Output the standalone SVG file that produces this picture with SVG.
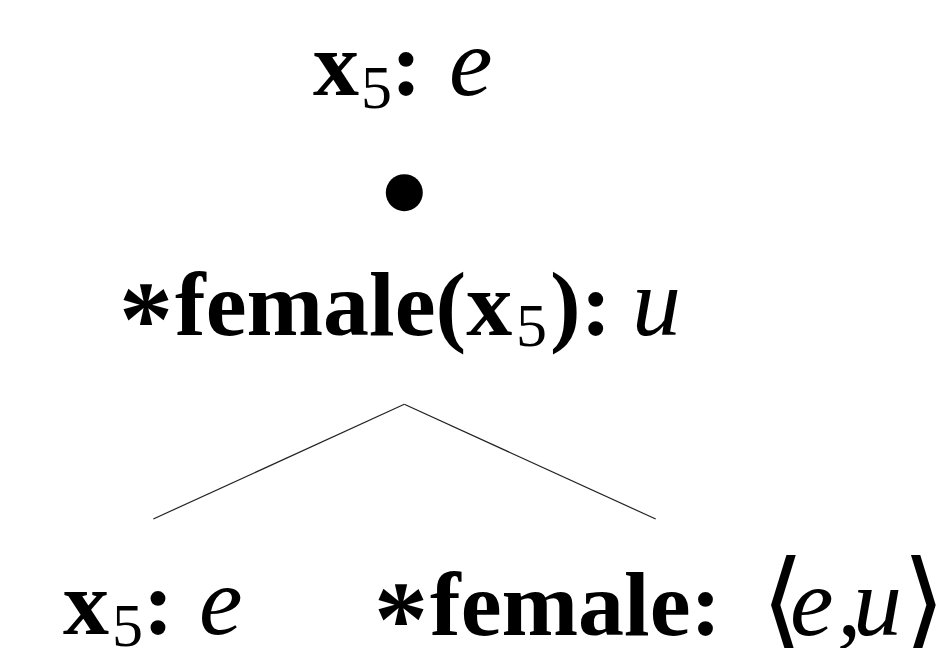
<svg xmlns="http://www.w3.org/2000/svg" width="941" height="648" viewBox="0 0 941 648">
<style>
.b{font-family:"Liberation Serif","Times New Roman",serif;font-weight:bold;font-size:92px;fill:#000}
.s{font-family:"Liberation Serif","Times New Roman",serif;font-weight:bold;font-size:108px;fill:#000}
.r{font-family:"Liberation Serif","Times New Roman",serif;font-size:62px;fill:#000}
.i{font-family:"Liberation Serif","Times New Roman",serif;font-style:italic;font-size:98px;fill:#000}
.ang{font-family:"DejaVu Serif","Liberation Serif",serif;font-size:112px;fill:#000}
.edge{stroke:#222;stroke-width:1.2;fill:none}
</style>
<rect width="941" height="648" fill="#fff"/>
<g id="connectors">
<line class="edge" x1="404.3" y1="404.3" x2="153.3" y2="519"/>
<line class="edge" x1="404.3" y1="404.3" x2="655.7" y2="519"/>
</g>
<g id="node-root">
<text class="b" x="313" y="95">x</text>
<text class="r" x="361" y="108">5</text>
<text class="b" x="391" y="95">:</text>
<text class="i" x="449" y="95">e</text>
<circle cx="404.3" cy="192.7" r="18.5" fill="#000"/>
</g>
<g id="node-mid">
<text class="s" x="119" y="356">*</text>
<text class="b" x="175" y="335">female(x</text>
<text class="r" x="516" y="346">5</text>
<text class="b" x="550" y="335">):</text>
<text class="i" x="632" y="335">u</text>
</g>
<g id="node-left">
<text class="b" x="63" y="634">x</text>
<text class="r" x="112" y="646">5</text>
<text class="b" x="143" y="634">:</text>
<text class="i" x="199" y="634">e</text>
</g>
<g id="node-right">
<text class="s" x="374" y="656">*</text>
<text class="b" x="430" y="635">female:</text>
<text class="ang" x="761" y="640">⟨</text>
<text class="i" x="790" y="635">e</text>
<text class="i" x="837" y="635">,</text>
<text class="i" x="853" y="635">u</text>
<text class="ang" x="902" y="640">⟩</text>
</g>
</svg>
